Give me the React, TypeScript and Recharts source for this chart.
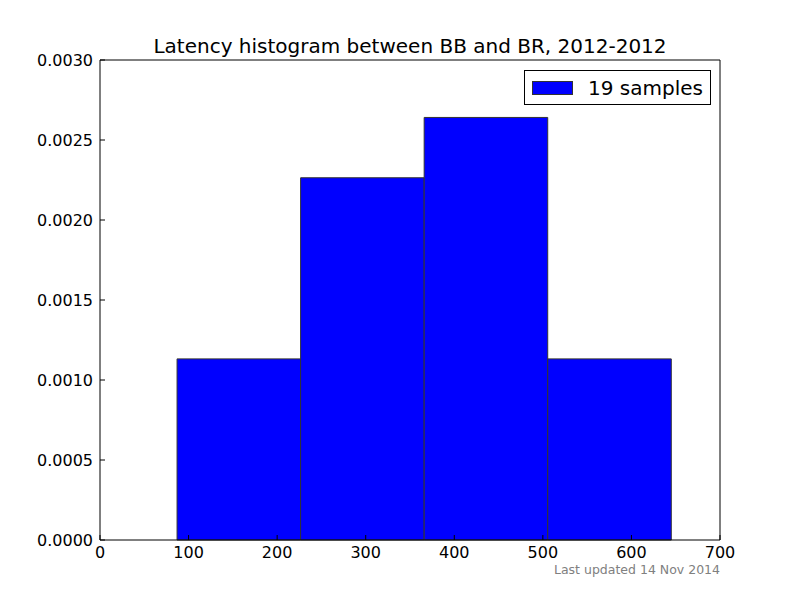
import { ComposedChart, Legend, ReferenceArea, XAxis, YAxis } from "recharts";

// histogram bins (latency, ms) and normalised densities
const binStarts = [87, 226.5, 366, 505.5];
const binEnds = [226.5, 366, 505.5, 645];
const densities = [0.001132, 0.002264, 0.002641, 0.001132];

const xTicks = [0, 100, 200, 300, 400, 500, 600, 700];
const yTicks = [0, 0.0005, 0.001, 0.0015, 0.002, 0.0025, 0.003];

const BAR_COLOR = "#0000ff";
const FONT = "DejaVu Sans, sans-serif";

const data = xTicks.map((x) => ({ x }));

function LegendBox() {
  return (
    <div
      style={{
        position: "absolute",
        left: 524,
        top: 70,
        width: 185,
        height: 33,
        border: "1px solid #000",
        background: "#fff",
        display: "flex",
        alignItems: "center",
        fontFamily: FONT,
        fontSize: 20,
        boxSizing: "content-box",
      }}
    >
      <span
        style={{
          display: "inline-block",
          width: 39,
          height: 12,
          background: BAR_COLOR,
          border: "1px solid #333",
          marginLeft: 7,
          marginRight: 15,
        }}
      />
      <span>19 samples</span>
    </div>
  );
}

export default function App() {
  return (
    <div
      style={{
        position: "absolute",
        left: 0,
        top: 0,
        width: 800,
        height: 600,
        background: "#fff",
        fontFamily: FONT,
      }}
    >
      <div
        style={{
          position: "absolute",
          left: 100,
          width: 620,
          top: 34,
          textAlign: "center",
          fontSize: 20,
        }}
      >
        Latency histogram between BB and BR, 2012-2012
      </div>
      <ComposedChart
        width={800}
        height={600}
        data={data}
        margin={{ top: 59, right: 79, bottom: 30, left: 40 }}
      >
        {binStarts.map((s, i) => (
          <ReferenceArea
            key={i}
            x1={s}
            x2={binEnds[i]}
            y1={0}
            y2={densities[i]}
            xAxisId="bottom"
            yAxisId="left"
            fill={BAR_COLOR}
            fillOpacity={1}
            stroke="#333"
            strokeWidth={1}
            ifOverflow="visible"
          />
        ))}
        <XAxis
          xAxisId="bottom"
          dataKey="x"
          type="number"
          domain={[0, 700]}
          allowDataOverflow
          ticks={xTicks}
          height={30}
          tickSize={-5}
          tickMargin={12}
          stroke="#000"
          tick={{ fill: "#000", fontSize: 16, fontFamily: FONT }}
          interval={0}
        />
        <XAxis
          xAxisId="top"
          orientation="top"
          dataKey="x"
          type="number"
          domain={[0, 700]}
          allowDataOverflow
          ticks={xTicks}
          height={1}
          tickSize={-5}
          tick={false}
          stroke="#000"
          interval={0}
        />
        <YAxis
          yAxisId="left"
          type="number"
          domain={[0, 0.003]}
          allowDataOverflow
          ticks={yTicks}
          width={60}
          tickSize={-5}
          tickMargin={12}
          stroke="#000"
          tick={{ fill: "#000", fontSize: 16, fontFamily: FONT }}
          tickFormatter={(v: number) => v.toFixed(4)}
          interval={0}
        />
        <YAxis
          yAxisId="right"
          orientation="right"
          type="number"
          domain={[0, 0.003]}
          allowDataOverflow
          ticks={yTicks}
          width={1}
          tickSize={-5}
          tick={false}
          stroke="#000"
          interval={0}
        />
        <Legend content={() => <LegendBox />} wrapperStyle={{ position: "absolute", left: 0, top: 0 }} />
      </ComposedChart>
      <div
        style={{
          position: "absolute",
          right: 80,
          top: 562,
          fontSize: 12.5,
          color: "#808080",
        }}
      >
        Last updated 14 Nov 2014
      </div>
    </div>
  );
}
